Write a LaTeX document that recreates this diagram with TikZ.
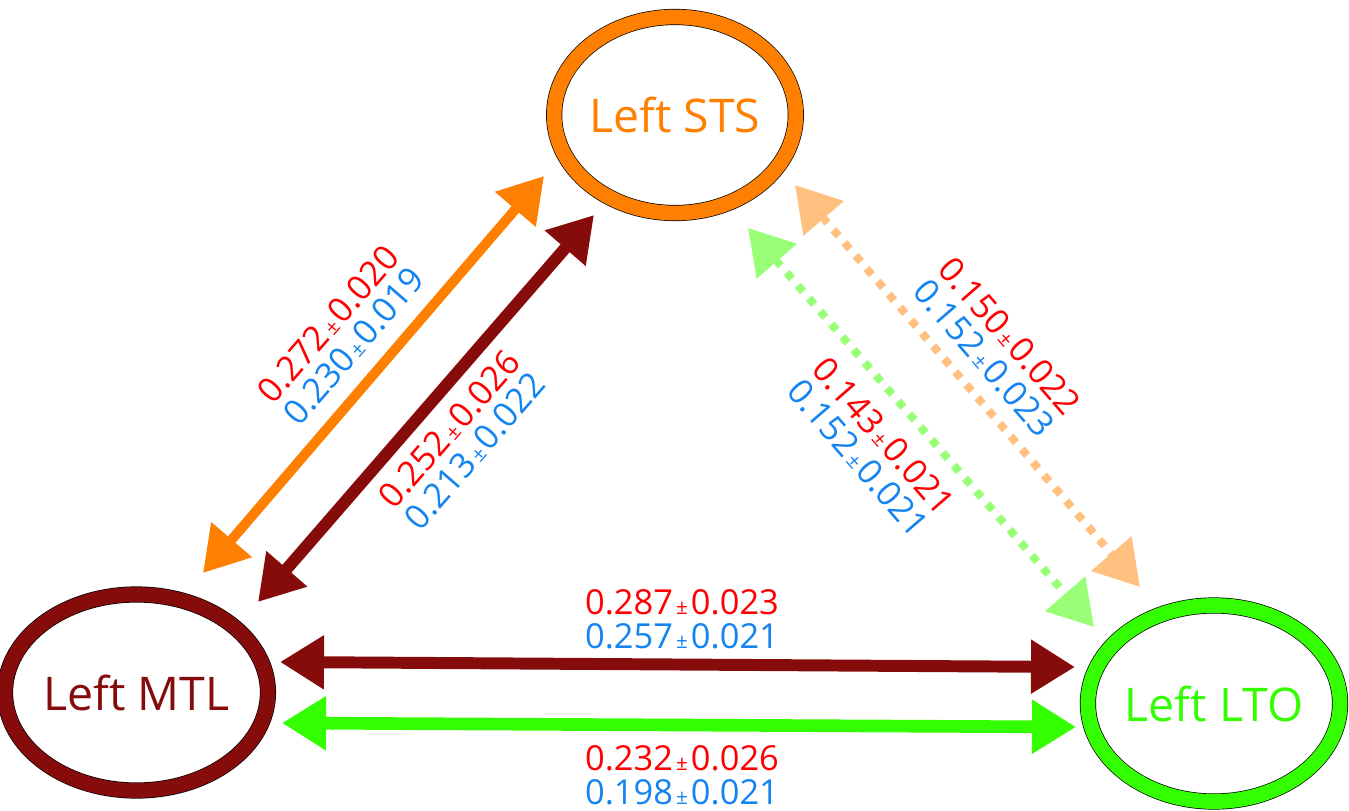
\documentclass[tikz,border=0pt]{standalone}
\usepackage{fontspec}
\setmainfont{Open Sans}
\usetikzlibrary{arrows.meta, shapes.geometric, calc}
\definecolor{stsorange}{RGB}{255,128,0}
\definecolor{mtlbrown}{RGB}{134,12,12}
\definecolor{ltogreen}{RGB}{51,255,0}
\definecolor{stspale}{RGB}{255,192,128}
\definecolor{ltopale}{RGB}{153,255,119}
\definecolor{valred}{RGB}{255,0,0}
\definecolor{valblue}{RGB}{20,132,240}
\newcommand{\pmk}{\makebox[0.52em]{\scalebox{0.6}{±}}}
\tikzset{
  % --- brain regions (black-edged coloured rings) ---
  region/.style={ellipse, draw=black, line width=0.5pt, double=#1,
    double distance=10.5pt, text=#1, fill=white, minimum width=5.95cm,
    minimum height=4.9cm, inner sep=0pt, font=\fontsize{33}{33}\selectfont},
  % --- connections ---
  link/.style={{Triangle[length=1.1cm, width=1.28cm]}-{Triangle[length=1.1cm, width=1.28cm]},
    draw=#1, line width=8.5pt},
  weaklink/.style={link=#1, line width=5.7pt, dash pattern=on 5.7pt off 6.4pt},
  % --- connection values ---
  values/.style={align=center, font=\fontsize{24.5}{24}\selectfont, inner sep=0pt},
}

\begin{document}
\begin{tikzpicture}[x=0.025cm, y=-0.025cm]
  \useasboundingbox (0,0) rectangle (1349,810);
  % ---- Regions ----
  \node[region=stsorange] (sts) at (675,115) {Left STS};
  \node[region=mtlbrown] (mtl) at (136.5,692.5) {Left MTL};
  \node[region=ltogreen] (lto) at (1214,703.5) {Left LTO};
  % ---- Arrow ends ----
  \coordinate (mtlO) at ($(mtl)+(66.5,-119.5)$);
  \coordinate (stsO) at ($(sts)+(-131,61)$);
  \coordinate (mtlB) at ($(mtl)+(121.5,-90.5)$);
  \coordinate (stsB) at ($(sts)+(-81,100)$);
  \coordinate (stsP) at ($(sts)+(120,70)$);
  \coordinate (ltoP) at ($(lto)+(-74,-116.5)$);
  \coordinate (stsG) at ($(sts)+(73,113)$);
  \coordinate (ltoG) at ($(lto)+(-120,-76.5)$);
  \coordinate (mtlH) at ($(mtl)+(143.5,-30.5)$);
  \coordinate (ltoH) at ($(lto)+(-139,-36.5)$);
  \coordinate (mtlL) at ($(mtl)+(145.5,30.5)$);
  \coordinate (ltoL) at ($(lto)+(-138,23.5)$);
  % ---- Links MTL <-> STS ----
  \draw[link=stsorange, line width=7pt] (mtlO) -- (stsO);
  \draw[link=mtlbrown] (mtlB) -- (stsB);
  % ---- Links STS <-> LTO ----
  \draw[weaklink=stspale] (stsP) -- (ltoP);
  \draw[weaklink=ltopale] (stsG) -- (ltoG);
  % ---- Links MTL <-> LTO ----
  \draw[link=mtlbrown] (mtlH) -- (ltoH);
  \draw[link=ltogreen, line width=9pt] (mtlL) -- (ltoL);
  % ---- Values ----
  \node[values, rotate=49] (vO) at (341,335)
    {\textcolor{valred}{0.272\pmk0.020}\\\textcolor{valblue}{0.230\pmk0.019}};
  \node[values, rotate=49] (vB) at (462,440)
    {\textcolor{valred}{0.252\pmk0.026}\\\textcolor{valblue}{0.213\pmk0.022}};
  \node[values, rotate=-49] (vP) at (997,347)
    {\textcolor{valred}{0.150\pmk0.022}\\\textcolor{valblue}{0.152\pmk0.023}};
  \node[values, rotate=-49] (vG) at (871,447)
    {\textcolor{valred}{0.143\pmk0.021}\\\textcolor{valblue}{0.152\pmk0.021}};
  \node[values] (vH) at (682,619)
    {\textcolor{valred}{0.287\pmk0.023}\\\textcolor{valblue}{0.257\pmk0.021}};
  \node[values] (vL) at (682,775)
    {\textcolor{valred}{0.232\pmk0.026}\\\textcolor{valblue}{0.198\pmk0.021}};
\end{tikzpicture}
\end{document}
